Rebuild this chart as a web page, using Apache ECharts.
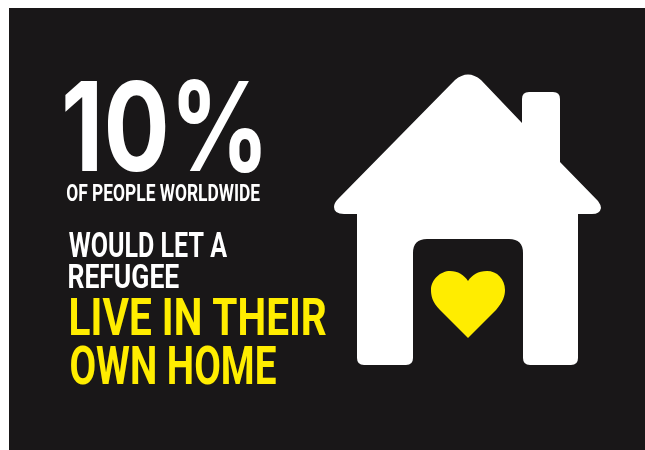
<!DOCTYPE html>
<html>
<head>
<meta charset="utf-8">
<style>html,body{margin:0;padding:0;background:#fff}#c{width:645px;height:450px}</style>
<script src="https://cdn.jsdelivr.net/npm/echarts@6/dist/echarts.min.js"></script>
</head>
<body>
<div id="c"></div>
<script>
const headlineValue = "10%";
const subjectLine = "OF PEOPLE WORLDWIDE";
const whiteLines = ["WOULD LET A", "REFUGEE"];
const yellowLines = ["LIVE IN THEIR", "OWN HOME"];

const WHITE = "#ffffff", YELLOW = "#ffed00", DARK = "#191718";
const FONT = 'Roboto, "Liberation Sans", sans-serif';
const HEAD_FONT = 'Inter, Roboto, sans-serif';

const mctx = document.createElement("canvas").getContext("2d");
// Fit a line of real text to its ink box [left, right, capTop, baseline]
function fitText(text, box, fill, family) {
  const fam = family || FONT;
  const [x0, x1, top, base] = box;
  mctx.font = "bold 100px " + fam;
  mctx.textAlign = "left";
  mctx.textBaseline = "middle";
  const m = mctx.measureText(text);
  const inkH = m.actualBoundingBoxAscent + m.actualBoundingBoxDescent;
  const size = 100 * (base - top) / inkH;
  const k = size / 100;
  const inkL = -m.actualBoundingBoxLeft * k;
  const inkW = (m.actualBoundingBoxRight + m.actualBoundingBoxLeft) * k;
  const sx = (x1 - x0) / inkW;
  return {
    type: "text", z: 100, x: x0 - inkL * sx, y: base - m.actualBoundingBoxDescent * k,
    scaleX: sx, scaleY: 1,
    style: { text, fill, font: "bold " + size + "px " + fam, align: "left", verticalAlign: "middle" }
  };
}

const housePath = "M357 214 L344 214 Q334 214 334 207 Q334 203 338 199 L455 80 Q468 69 481 80 L522 123 L522 99 Q522 92 529 92 L553 92 Q560 92 560 99 L560 162 L598 201 Q601 205 601 208 Q600 214 592 214 L578 214 L578 358 Q578 365 571 365 L530 365 Q523 365 523 358 L523 253 Q523 239 509 239 L427 239 Q413 239 413 253 L413 358 Q413 365 406 365 L364 365 Q357 365 357 358 Z";
const heartPath = "M468 338 L440 310 C432 302 431 295 431 290 C431 279 441 271 450 271 C458 271 464 275 468 281 C472 275 478 271 487 271 C497 271 505 279 505 290 C505 296 503 302 496 310 Z";

const chart = echarts.init(document.getElementById("c"), null, { renderer: "canvas" });
chart.setOption({
  backgroundColor: "#ffffff",
  animation: false,
  series: [{
    type: "custom",
    coordinateSystem: "none",
    silent: true,
    data: [0],
    renderItem: function () {
      return { type: "group", children: [
        { type: "rect", shape: { x: 9, y: 8, width: 636, height: 442 }, style: { fill: DARK } },
        { type: "path", shape: { pathData: housePath, layout: "cover", x: 334, y: 74.5, width: 267, height: 290.5 }, style: { fill: WHITE } },
        { type: "path", shape: { pathData: heartPath, layout: "cover", x: 431, y: 271, width: 74, height: 67 }, style: { fill: YELLOW } }
      ]};
    }
  }],
  graphic: { elements: [
    fitText(headlineValue, [65, 261, 79, 172], WHITE, HEAD_FONT),
    fitText(subjectLine, [67, 260, 184, 201], WHITE),
    fitText(whiteLines[0], [69, 227, 232, 257], WHITE),
    fitText(whiteLines[1], [69, 179, 263, 288], WHITE),
    fitText(yellowLines[0], [71, 326, 298, 336], YELLOW),
    fitText(yellowLines[1], [71, 276, 346, 385], YELLOW)
  ]}
});
</script>
</body>
</html>
